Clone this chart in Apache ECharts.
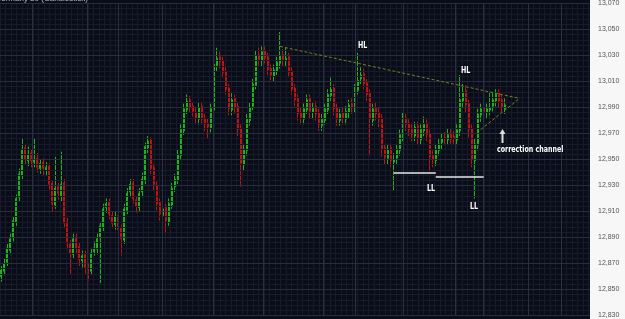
<!DOCTYPE html>
<html>
<head>
<meta charset="utf-8">
<script src="https://cdn.jsdelivr.net/npm/echarts@6/dist/echarts.min.js"></script>
<style>
  html, body { margin: 0; padding: 0; background: #f7f7f7; }
  #main { width: 625px; height: 319px; }
</style>
</head>
<body>
<div id="main"></div>
<script>
// Germany 30 candles
const opens = [12860,12864,12871,12880,12890,12902,12921,12938,12959,12949,
  12955,12948,12951,12943,12948,12942,12945,12932,12915,12929,
  12922,12932,12902,12885,12877,12890,12883,12872,12877,12866,
  12864,12879,12881,12890,12898,12913,12917,12907,12900,12907,
  12897,12888,12911,12925,12932,12919,12913,12925,12934,12959,
  12965,12944,12930,12917,12907,12913,12902,12915,12929,12934,
  12953,12972,12988,12996,12991,12986,12981,12991,12982,12978,
  12974,12988,13022,13029,13026,13018,13005,12988,12997,12991,
  12974,12946,12957,12980,12991,13007,13031,13026,13034,13029,
  13020,13014,13018,13024,13031,13026,13029,13018,13005,12997,
  12986,12981,12988,12997,12986,12991,12986,12976,12980,12988,
  12999,13005,12990,12980,12986,12981,12986,12993,12989,13003,
  13012,13016,13009,13001,12980,12990,12986,12982,12959,12951,
  12959,12948,12951,12957,12968,12982,12978,12974,12968,12976,
  12965,12972,12978,12970,12953,12949,12957,12963,12967,12965,
  12970,12968,12965,12972,12995,13003,12993,12974,12949,12961,
  12984,12990,12986,12988,12991,12995,13001,12996,12989]
const closes = [12865,12870,12882,12889,12903,12920,12939,12958,12950,12954,
  12949,12950,12944,12947,12943,12944,12931,12916,12928,12924,
  12931,12901,12886,12878,12889,12882,12873,12876,12867,12865,
  12878,12882,12889,12899,12912,12916,12908,12901,12906,12896,
  12889,12912,12924,12931,12920,12914,12924,12935,12960,12964,
  12943,12931,12916,12908,12912,12903,12916,12928,12935,12954,
  12973,12989,12995,12990,12987,12982,12990,12981,12977,12975,
  12989,13023,13028,13025,13017,13004,12989,12996,12990,12973,
  12947,12958,12981,12990,13008,13030,13027,13033,13028,13019,
  13015,13019,13025,13030,13027,13028,13017,13004,12996,12985,
  12982,12989,12996,12987,12990,12985,12977,12981,12989,13000,
  13004,12989,12981,12985,12982,12987,12992,12990,13004,13011,
  13015,13008,13000,12981,12989,12985,12981,12958,12952,12958,
  12949,12950,12958,12969,12981,12977,12973,12969,12975,12966,
  12973,12977,12969,12952,12950,12958,12962,12966,12966,12969,
  12967,12966,12973,12996,13002,12992,12973,12950,12962,12985,
  12989,12987,12989,12990,12996,13000,12995,12990,12992]
const lows = [12856,12861,12868,12877,12887,12899,12918,12935,12946,12945,
  12944,12944,12940,12939,12938,12938,12927,12910,12912,12919,
  12918,12897,12881,12862,12874,12877,12868,12867,12862,12857,
  12861,12876,12877,12855,12895,12909,12904,12897,12896,12892,
  12876,12885,12908,12921,12916,12909,12910,12921,12931,12955,
  12939,12926,12911,12903,12902,12893,12899,12912,12925,12931,
  12950,12969,12985,12986,12983,12978,12977,12977,12972,12966,
  12971,12985,13018,13020,13013,13000,12984,12984,12985,12968,
  12929,12941,12953,12976,12988,13004,13022,13022,13024,13015,
  13011,13010,13015,13020,13022,13022,13013,13000,12991,12980,
  12977,12977,12985,12982,12981,12980,12972,12972,12977,12985,
  12995,12984,12976,12976,12977,12977,12982,12985,12986,13000,
  13008,13004,12995,12953,12976,12980,12975,12952,12946,12946,
  12944,12926,12946,12953,12964,12972,12968,12964,12964,12961,
  12961,12968,12964,12941,12944,12945,12953,12958,12961,12961,
  12962,12961,12961,12968,12990,12986,12967,12944,12920,12957,
  12979,12982,12982,12984,12987,12991,12990,12986,12985]
const highs = [12868,12874,12885,12893,12906,12923,12943,12966,12962,12960,
  12958,12966,12955,12950,12951,12948,12947,12934,12952,12932,
  12956,12935,12905,12888,12893,12893,12886,12880,12880,12870,
  12882,12887,12893,12902,12916,12920,12920,12910,12910,12911,
  12900,12916,12928,12935,12935,12922,12928,12940,12963,12968,
  12967,12947,12933,12920,12916,12916,12920,12932,12939,12958,
  12977,12993,13000,12999,12994,12990,12994,12994,12985,12982,
  12993,13027,13036,13033,13029,13021,13008,13001,13000,12994,
  12977,12962,12985,12994,13012,13034,13036,13037,13037,13032,
  13023,13023,13029,13048,13035,13036,13032,13021,13008,13000,
  12990,12993,13000,13000,12994,12995,12989,12985,12993,13004,
  13013,13008,12993,12989,12990,12991,12996,12997,13008,13032,
  13021,13020,13012,13004,12993,12994,12990,12985,12962,12962,
  12962,12955,12962,12973,12986,12985,12981,12977,12979,12979,
  12977,12983,12981,12973,12957,12962,12966,12970,12971,12974,
  12974,12972,12977,13015,13008,13007,12996,12977,12966,12989,
  12993,12994,12993,13002,13001,13004,13004,13000,12997]

// hidden x slots: the chart leaves room after the last candle
const slotCount = 197
const categories = Array.from({ length: slotCount }, (_, i) => String(i))
const yTicks = { min: 12830, max: 13070, step: 20 }
// brighter vertical grid lines (pixel positions of the plot)
const majorX = [32, 87, 118, 162, 213, 263, 323, 355, 403, 455, 483, 528, 561]

// annotation lines, [slot, price]
const resistance = [[93, 13037], [173, 12997]]
const channelLow = [[160, 12973], [173, 12997]]
const supportA = [[131, 12939.5], [145, 12939.5]]
const supportB = [[145, 12936.4], [161, 12936.4]]

const candles = opens.map((o, i) => [o, closes[i], lows[i], highs[i]])

const myChart = echarts.init(document.getElementById('main'))

const noteFont = 'bold 9px "Liberation Sans Narrow", "DejaVu Sans Condensed", sans-serif'
const note = (text, x, y) => ({
  type: 'text', x: x, y: y, scaleX: 0.78, z: 10,
  style: { text: text, fill: '#fff', font: noteFont }
})
const seg = (pts, color, type, width) => [
  { coord: pts[0], lineStyle: { color: color, type: type, width: width } },
  { coord: pts[1] }
]

const option = {
  backgroundColor: '#0a0d18',
  animation: false,
  grid: { left: 0, right: 35, top: 3, bottom: 1 },
  xAxis: [
    {
      type: 'category',
      data: categories,
      show: false
    },
    {
      type: 'value',
      min: 0,
      max: 590,
      interval: 5.5,
      axisLine: { show: false },
      axisTick: { show: false },
      axisLabel: { show: false },
      splitLine: { show: true, lineStyle: { color: '#151b2a', width: 1 } }
    }
  ],
  yAxis: {
    type: 'value',
    position: 'right',
    min: yTicks.min,
    max: yTicks.max,
    interval: yTicks.step,
    z: 5,
    axisLine: { show: false },
    axisTick: { show: false },
    axisLabel: {
      margin: 8,
      color: '#555',
      fontSize: 7,
      fontFamily: 'Liberation Sans, sans-serif',
      formatter: v => v.toLocaleString('en-US')
    },
    splitLine: { lineStyle: { color: '#262d3d', width: 1 } },
    minorTick: { show: false, splitNumber: 5 },
    minorSplitLine: { show: true, lineStyle: { color: '#151b2a', width: 1 } }
  },
  graphic: [
    { type: 'rect', left: 590, top: 0, shape: { width: 35, height: 319 }, style: { fill: '#f7f7f7' }, z: 1 },
    { type: 'text', left: -5, top: -5, style: { text: 'Germany 30 (Candlestick)', fill: '#bdbdbd', font: '8px "Liberation Sans Narrow", sans-serif' }, z: 10 },
    note('HL', 358, 41),
    note('HL', 461, 66),
    note('LL', 427, 184),
    note('LL', 470, 202),
    note('correction channel', 497, 145),
    { type: 'line', shape: { x1: 502.5, y1: 143, x2: 502.5, y2: 133 }, style: { stroke: '#ddd', lineWidth: 2 }, z: 10 },
    { type: 'polygon', shape: { points: [[502.5, 129], [499.5, 134], [505.5, 134]] }, style: { fill: '#ddd' }, z: 10 }
  ],
  series: [
    {
      type: 'line',
      xAxisIndex: 1,
      data: [],
      silent: true,
      markLine: {
        silent: true,
        symbol: 'none',
        label: { show: false },
        lineStyle: { color: '#283042', width: 1, type: 'solid' },
        data: majorX.map(x => ({ xAxis: x }))
      }
    },
    {
      type: 'candlestick',
      data: candles,
      barWidth: 1.5,
      itemStyle: {
        color: '#16b816',
        color0: '#c41010',
        borderColor: '#16b816',
        borderColor0: '#c41010',
        borderWidth: 1
      },
      markLine: {
        silent: true,
        symbol: 'none',
        label: { show: false },
        data: [
          seg(resistance, '#7d7a22', [3, 2], 1),
          seg(channelLow, '#7d7a22', [3, 2], 1),
          seg(supportA, '#e8e8e8', 'solid', 1.5),
          seg(supportB, '#e8e8e8', 'solid', 1.5)
        ]
      }
    }
  ]
}

myChart.setOption(option)
</script>
</body>
</html>
